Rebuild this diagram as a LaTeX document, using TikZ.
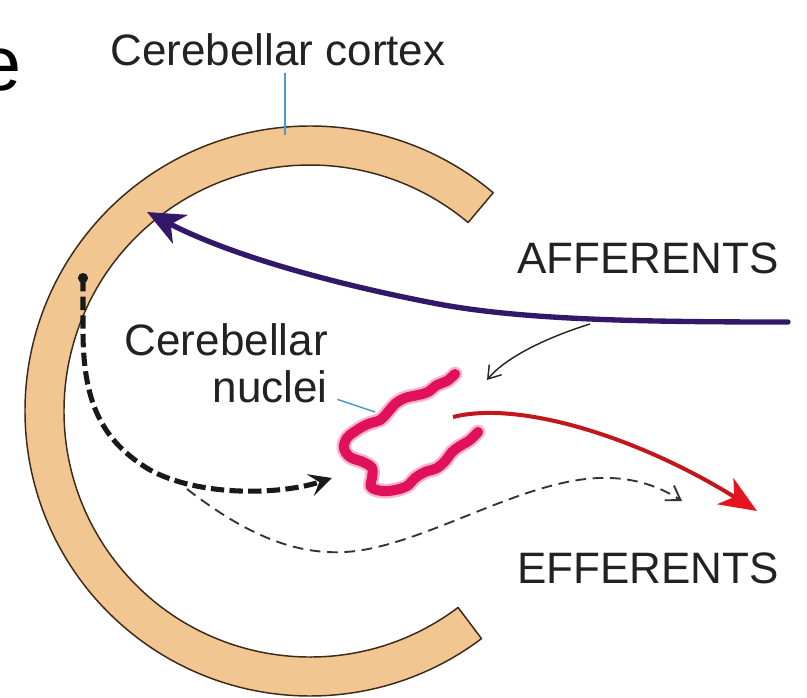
\documentclass[tikz,border=0pt]{standalone}
\usepackage{fontspec}
\setmainfont{Liberation Sans}
\usetikzlibrary{arrows.meta,calc}
\definecolor{cortexfill}{HTML}{F2C690}
\definecolor{cortexedge}{HTML}{3A2A1A}
\definecolor{affcol}{HTML}{33186A}
\definecolor{nuccol}{HTML}{E0105A}
\definecolor{effline}{HTML}{C0161C}
\definecolor{effhead}{HTML}{E5141E}
\definecolor{leadercol}{HTML}{4A9AD0}
\definecolor{txtcol}{HTML}{222222}
\begin{document}
\begin{tikzpicture}[x=0.75pt,y=-0.75pt,
  lbl/.style={font=\fontsize{33}{33}\selectfont, text=txtcol, inner sep=0pt},
  leader/.style={leadercol, line width=1.1pt},
  affpath/.style={affcol, line width=4pt, line cap=round, -{Stealth[length=28pt,width=24pt,inset=8pt]}},
  thinarrow/.style={black!85, line width=1.1pt, -{Straight Barb[length=9pt,width=12pt]}},
  effpath/.style={effline, line width=3pt, -{Stealth[length=28pt,width=23pt,inset=8pt,color=effhead,fill=effhead]}},
  thickdash/.style={black!90, line width=3.8pt, dash pattern=on 10pt off 4pt, -{Stealth[length=17pt,width=17pt,inset=7pt]}},
  thindash/.style={black!80, line width=1.4pt, dash pattern=on 8pt off 5pt, -{Straight Barb[length=10pt,width=13pt]}},
  nucblur/.style={nuccol, opacity=0.3, line width=11pt, line cap=round, line join=round},
  nucline/.style={nuccol, line width=7.5pt, line cap=round, line join=round}
]
\useasboundingbox (0,0) rectangle (807,697);
\fill[white] (0,0) rectangle (807,697);

% partial big letter at the left edge
\node[font=\fontsize{58}{58}\selectfont, anchor=base west, inner sep=0pt] (bige) at (-22,90) {e};

% cerebellar cortex band
\coordinate (cc) at (310,411);
\draw[cortexedge, line width=1.1pt, fill=cortexfill, line join=round]
  ($(cc)+(-50:285)$) arc[start angle=-50, end angle=-307, radius=285]
  -- ($(cc)+(-307:246)$) arc[start angle=-307, end angle=-50, radius=246]
  -- cycle;

% labels
\node[lbl, anchor=base] (ctx) at (278,65) {Cerebellar cortex};
\node[lbl, anchor=base west] (aff) at (517,273) {AFFERENTS};
\node[lbl, anchor=base west] (eff) at (517,583) {EFFERENTS};
\node[lbl, anchor=base east] (cn1) at (328,355) {Cerebellar};
\node[lbl, anchor=base east] (cn2) at (328,402) {nuclei};

% leader lines
\coordinate (ctxpin) at (285,135);
\coordinate (nucpin) at (375,412);
\draw[leader] ([yshift=-6pt]ctx.base -| ctxpin) -- (ctxpin);
\draw[leader] ([xshift=7pt,yshift=2pt]cn2.base east) -- (nucpin);

% cerebellar nuclei
\def\nucpts{(455,374) (447,381) (437,385) (428,392) (418,395) (405,398) (395,404) (388,412) (380,420) (368,424) (357,430) (347,438) (344,448) (350,457) (363,462) (372,468) (372,478) (371,487) (382,491) (395,490) (407,486) (415,478) (425,472) (437,468) (446,460) (452,452) (460,446) (470,440) (478,432)}
\draw[nucblur] plot[smooth, tension=0.6] coordinates {\nucpts};
\draw[nucline] plot[smooth, tension=0.6] coordinates {\nucpts};

% key points of the connectors
\coordinate (affR) at (788,322);
\coordinate (affTip) at (147,212);
\coordinate (branch) at (590,324);
\coordinate (thinTip) at (487,380);
\coordinate (effS) at (453,417);
\coordinate (effTip) at (757,511);
\coordinate (dot) at (83,278);
\coordinate (dashTip) at (332,478);
\coordinate (br2) at (187,489);
\coordinate (thinDashTip) at (682,501);

% afferents
\draw[affpath] (affR) .. controls (640,322) and (520,320) .. (433,303)
  .. controls (330,283) and (230,255) .. (affTip);
\draw[thinarrow] (branch) .. controls (545,338) and (505,358) .. (thinTip);

% efferents
\draw[effpath] (effS) .. controls (520,400) and (640,438) .. (effTip);

% cortex -> nuclei (thick dashed)
\fill[black!90] (dot) circle[radius=3.8pt];
\draw[thickdash] (dot) -- (83,330) .. controls (83,400) and (100,440) .. (150,470)
  .. controls (200,497) and (280,495) .. (dashTip);

% cortex -> out (thin dashed)
\draw[thindash] (br2) .. controls (240,530) and (290,555) .. (345,552)
  .. controls (420,548) and (520,480) .. (600,478)
  .. controls (635,477) and (660,487) .. (thinDashTip);
\end{tikzpicture}
\end{document}
